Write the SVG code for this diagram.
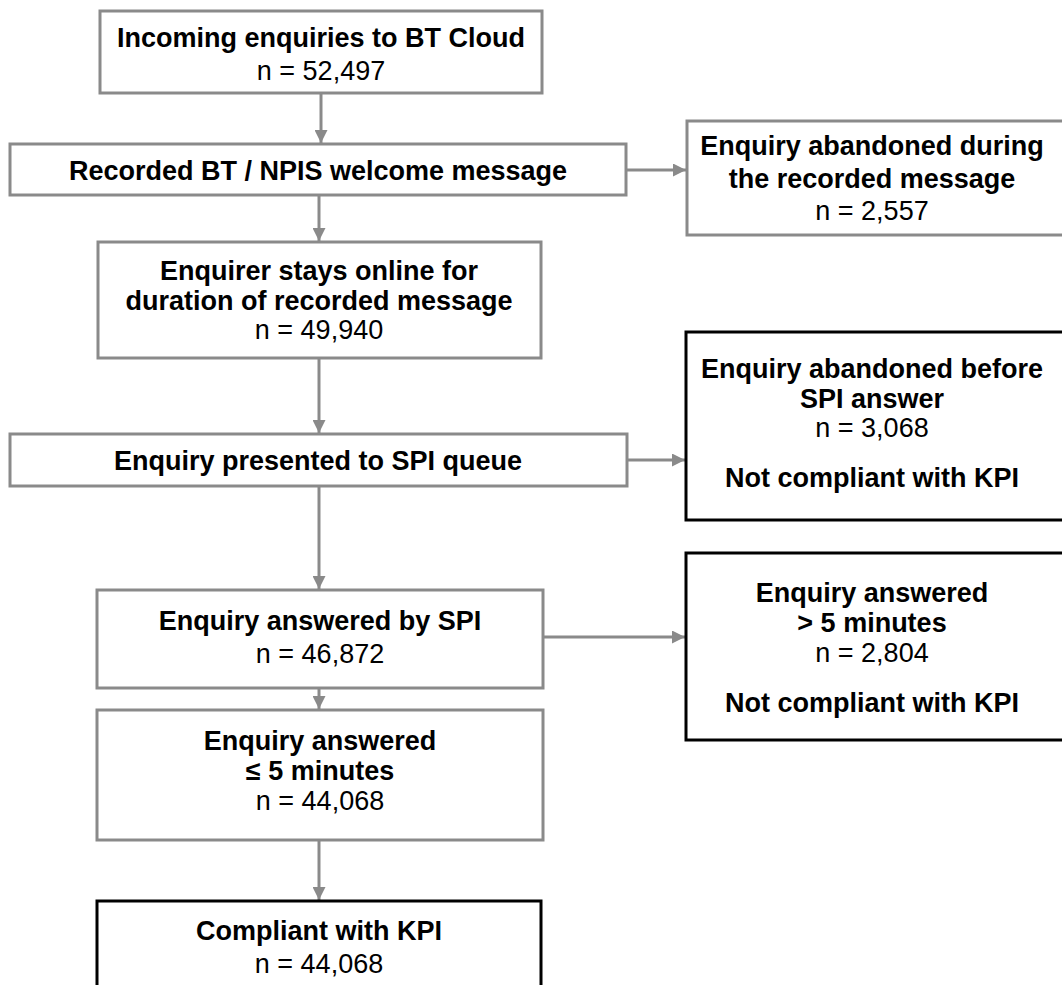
<svg xmlns="http://www.w3.org/2000/svg" width="1062" height="985" viewBox="0 0 1062 985">
  <style>
    .box { fill: #ffffff; stroke: #8a8a8a; stroke-width: 3; }
    .box-kpi { fill: #ffffff; stroke: #000000; stroke-width: 3; }
    .edge { stroke: #8a8a8a; stroke-width: 3; fill: none; marker-end: url(#arrow); }
    text { font-family: "Liberation Sans", Arial, sans-serif; font-size: 27px; fill: #000000; text-anchor: middle; }
    .b { font-weight: bold; }
  </style>
  <defs>
    <marker id="arrow" viewBox="0 0 10 10" refX="10" refY="5" markerWidth="13" markerHeight="13" markerUnits="userSpaceOnUse" orient="auto">
      <path d="M0,0 L10,5 L0,10 Z" fill="#8a8a8a"/>
    </marker>
  </defs>
  <rect width="1062" height="985" fill="#ffffff"/>

  <g id="connectors">
    <line class="edge" x1="321" y1="93" x2="321" y2="143"/>
    <line class="edge" x1="626" y1="170" x2="686" y2="170"/>
    <line class="edge" x1="319" y1="195" x2="319" y2="241"/>
    <line class="edge" x1="319" y1="358" x2="319" y2="433"/>
    <line class="edge" x1="627" y1="460" x2="685" y2="460"/>
    <line class="edge" x1="319" y1="486" x2="319" y2="589"/>
    <line class="edge" x1="543" y1="637" x2="685" y2="637"/>
    <line class="edge" x1="319" y1="688" x2="319" y2="709"/>
    <line class="edge" x1="319" y1="840" x2="319" y2="900"/>
  </g>

  <g id="incoming">
    <rect class="box" x="100" y="11" width="442" height="82"/>
    <text class="b" x="321" y="47">Incoming enquiries to BT Cloud</text>
    <text x="321" y="80">n = 52,497</text>
  </g>

  <g id="welcome">
    <rect class="box" x="10" y="144" width="616" height="51"/>
    <text class="b" x="318" y="180">Recorded BT / NPIS welcome message</text>
  </g>

  <g id="abandoned-recorded">
    <rect class="box" x="687" y="121" width="380" height="114"/>
    <text class="b" x="872" y="155">Enquiry abandoned during</text>
    <text class="b" x="872" y="188">the recorded message</text>
    <text x="872" y="220">n = 2,557</text>
  </g>

  <g id="stays-online">
    <rect class="box" x="98" y="242" width="443" height="116"/>
    <text class="b" x="319" y="280">Enquirer stays online for</text>
    <text class="b" x="319" y="310">duration of recorded message</text>
    <text x="319" y="339">n = 49,940</text>
  </g>

  <g id="presented">
    <rect class="box" x="10" y="434" width="617" height="52"/>
    <text class="b" x="318" y="470">Enquiry presented to SPI queue</text>
  </g>

  <g id="abandoned-before">
    <rect class="box-kpi" x="686" y="332" width="380" height="188"/>
    <text class="b" x="872" y="378">Enquiry abandoned before</text>
    <text class="b" x="872" y="408">SPI answer</text>
    <text x="872" y="437">n = 3,068</text>
    <text class="b" x="872" y="487">Not compliant with KPI</text>
  </g>

  <g id="answered">
    <rect class="box" x="97" y="590" width="446" height="98"/>
    <text class="b" x="320" y="630">Enquiry answered by SPI</text>
    <text x="320" y="663">n = 46,872</text>
  </g>

  <g id="answered-over">
    <rect class="box-kpi" x="686" y="553" width="380" height="187"/>
    <text class="b" x="872" y="602">Enquiry answered</text>
    <text class="b" x="872" y="632">&gt; 5 minutes</text>
    <text x="872" y="662">n = 2,804</text>
    <text class="b" x="872" y="712">Not compliant with KPI</text>
  </g>

  <g id="answered-within">
    <rect class="box" x="97" y="710" width="446" height="130"/>
    <text class="b" x="320" y="750">Enquiry answered</text>
    <text class="b" x="320" y="780">≤ 5 minutes</text>
    <text x="320" y="810">n = 44,068</text>
  </g>

  <g id="compliant">
    <rect class="box-kpi" x="97" y="901" width="444" height="100"/>
    <text class="b" x="319" y="940">Compliant with KPI</text>
    <text x="319" y="973">n = 44,068</text>
  </g>
</svg>
